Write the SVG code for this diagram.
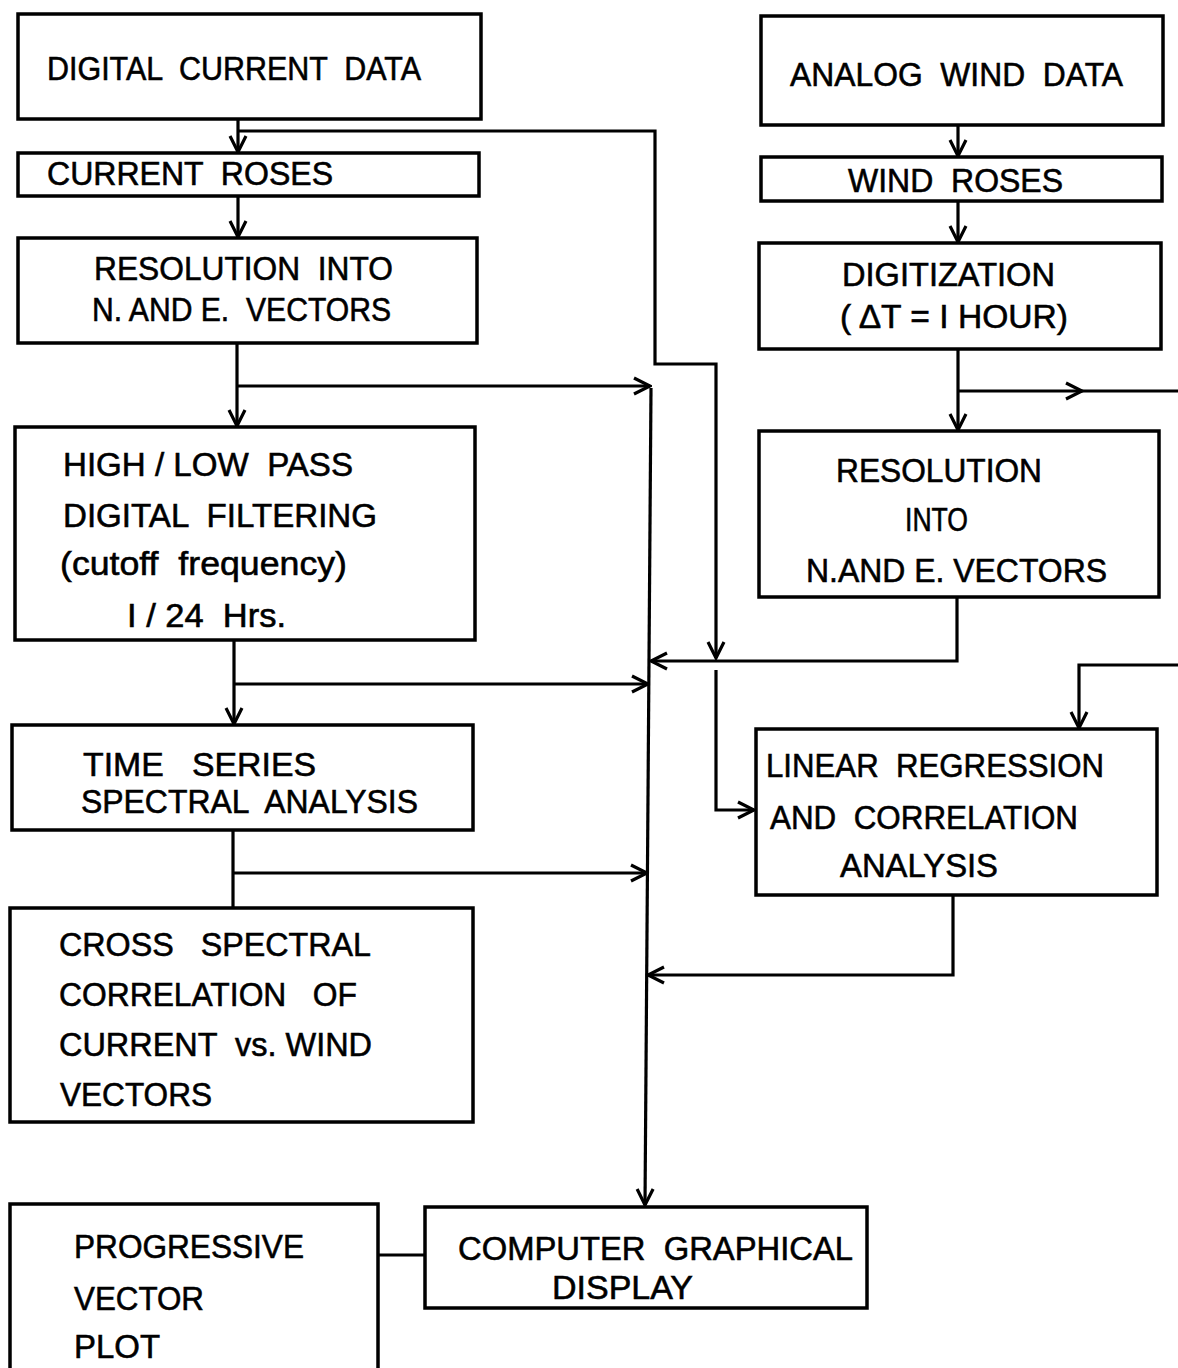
<svg xmlns="http://www.w3.org/2000/svg" width="1178" height="1368" viewBox="0 0 1178 1368">
<style>
.box{fill:#fff;stroke:#000;stroke-width:3.5}
.ln{fill:none;stroke:#000;stroke-width:3.2;stroke-linejoin:miter}
text{font-family:"Liberation Sans","DejaVu Sans",sans-serif;font-size:34px;fill:#000;stroke:#000;stroke-width:0.6;white-space:pre}
</style>
<defs>
<marker id="ah" viewBox="0 0 20 20" refX="18" refY="10" markerWidth="20" markerHeight="20" markerUnits="userSpaceOnUse" orient="auto">
<path d="M2,2 L18,10 L2,18" fill="none" stroke="#000" stroke-width="3.2"/>
</marker>
</defs>
<rect width="1178" height="1368" fill="#fff"/>

<g id="connectors">
<path class="ln" d="M238,119 V152" marker-end="url(#ah)"/>
<path class="ln" d="M238,196 V237" marker-end="url(#ah)"/>
<path class="ln" d="M237,343 V426" marker-end="url(#ah)"/>
<path class="ln" d="M234,640 V724" marker-end="url(#ah)"/>
<path class="ln" d="M233,830 V908"/>
<path class="ln" d="M238,131 H655 V364 H716 V658" marker-end="url(#ah)"/>
<path class="ln" d="M716,670 V810 H754" marker-end="url(#ah)"/>
<path class="ln" d="M237,386 H650" marker-end="url(#ah)"/>
<path class="ln" d="M234,684 H648" marker-end="url(#ah)"/>
<path class="ln" d="M233,873 H647" marker-end="url(#ah)"/>
<path class="ln" d="M651,388 L645,1205" marker-end="url(#ah)"/>
<path class="ln" d="M957,597 V661 H651" marker-end="url(#ah)"/>
<path class="ln" d="M953,895 V975 H648" marker-end="url(#ah)"/>
<path class="ln" d="M958,125 V156" marker-end="url(#ah)"/>
<path class="ln" d="M958,201 V242" marker-end="url(#ah)"/>
<path class="ln" d="M958,349 V430" marker-end="url(#ah)"/>
<path class="ln" d="M958,391 H1082" marker-end="url(#ah)"/>
<path class="ln" d="M1080,391 H1178"/>
<path class="ln" d="M1178,665 H1079 V728" marker-end="url(#ah)"/>
<path class="ln" d="M378,1255 H425"/>
</g>

<g id="digital-current-data">
<rect class="box" x="18" y="14" width="463" height="105"/>
<text x="47" y="80" textLength="374" lengthAdjust="spacingAndGlyphs">DIGITAL  CURRENT  DATA</text>
</g>
<g id="current-roses">
<rect class="box" x="18" y="153" width="461" height="43"/>
<text x="47" y="185" textLength="286" lengthAdjust="spacingAndGlyphs">CURRENT  ROSES</text>
</g>
<g id="current-resolution">
<rect class="box" x="18" y="238" width="459" height="105"/>
<text x="94" y="280" textLength="299" lengthAdjust="spacingAndGlyphs">RESOLUTION  INTO</text>
<text x="92" y="321" textLength="299" lengthAdjust="spacingAndGlyphs">N. AND E.  VECTORS</text>
</g>
<g id="filtering">
<rect class="box" x="15" y="427" width="460" height="213"/>
<text x="63" y="476" textLength="290" lengthAdjust="spacingAndGlyphs">HIGH / LOW  PASS</text>
<text x="63" y="527" textLength="314" lengthAdjust="spacingAndGlyphs">DIGITAL  FILTERING</text>
<text x="60" y="575" textLength="287" lengthAdjust="spacingAndGlyphs">(cutoff  frequency)</text>
<text x="127" y="627" textLength="159" lengthAdjust="spacingAndGlyphs">I / 24  Hrs.</text>
</g>
<g id="time-series">
<rect class="box" x="12" y="725" width="461" height="105"/>
<text x="83" y="776" textLength="233" lengthAdjust="spacingAndGlyphs">TIME   SERIES</text>
<text x="81" y="813" textLength="337" lengthAdjust="spacingAndGlyphs">SPECTRAL  ANALYSIS</text>
</g>
<g id="cross-spectral">
<rect class="box" x="10" y="908" width="463" height="214"/>
<text x="59" y="956" textLength="312" lengthAdjust="spacingAndGlyphs">CROSS   SPECTRAL</text>
<text x="59" y="1006" textLength="298" lengthAdjust="spacingAndGlyphs">CORRELATION   OF</text>
<text x="59" y="1056" textLength="313" lengthAdjust="spacingAndGlyphs">CURRENT  vs. WIND</text>
<text x="60" y="1106" textLength="152" lengthAdjust="spacingAndGlyphs">VECTORS</text>
</g>
<g id="progressive-vector-plot">
<rect class="box" x="10" y="1204" width="368" height="180"/>
<text x="74" y="1258" textLength="230" lengthAdjust="spacingAndGlyphs">PROGRESSIVE</text>
<text x="74" y="1310" textLength="130" lengthAdjust="spacingAndGlyphs">VECTOR</text>
<text x="74" y="1358" textLength="86" lengthAdjust="spacingAndGlyphs">PLOT</text>
</g>
<g id="computer-graphical-display">
<rect class="box" x="425" y="1207" width="442" height="101"/>
<text x="458" y="1260" textLength="395" lengthAdjust="spacingAndGlyphs">COMPUTER  GRAPHICAL</text>
<text x="552" y="1299" textLength="141" lengthAdjust="spacingAndGlyphs">DISPLAY</text>
</g>
<g id="analog-wind-data">
<rect class="box" x="761" y="16" width="402" height="109"/>
<text x="790" y="86" textLength="333" lengthAdjust="spacingAndGlyphs">ANALOG  WIND  DATA</text>
</g>
<g id="wind-roses">
<rect class="box" x="761" y="157" width="401" height="44"/>
<text x="848" y="192" textLength="215" lengthAdjust="spacingAndGlyphs">WIND  ROSES</text>
</g>
<g id="digitization">
<rect class="box" x="759" y="243" width="402" height="106"/>
<text x="842" y="286" textLength="213" lengthAdjust="spacingAndGlyphs">DIGITIZATION</text>
<text x="840" y="328" textLength="228" lengthAdjust="spacingAndGlyphs">( ΔT = I HOUR)</text>
</g>
<g id="wind-resolution">
<rect class="box" x="759" y="431" width="400" height="166"/>
<text x="836" y="482" textLength="206" lengthAdjust="spacingAndGlyphs">RESOLUTION</text>
<text x="905" y="531" textLength="63" lengthAdjust="spacingAndGlyphs">INTO</text>
<text x="806" y="582" textLength="301" lengthAdjust="spacingAndGlyphs">N.AND E. VECTORS</text>
</g>
<g id="linear-regression">
<rect class="box" x="756" y="729" width="401" height="166"/>
<text x="766" y="777" textLength="338" lengthAdjust="spacingAndGlyphs">LINEAR  REGRESSION</text>
<text x="770" y="829" textLength="308" lengthAdjust="spacingAndGlyphs">AND  CORRELATION</text>
<text x="840" y="877" textLength="158" lengthAdjust="spacingAndGlyphs">ANALYSIS</text>
</g>
</svg>
